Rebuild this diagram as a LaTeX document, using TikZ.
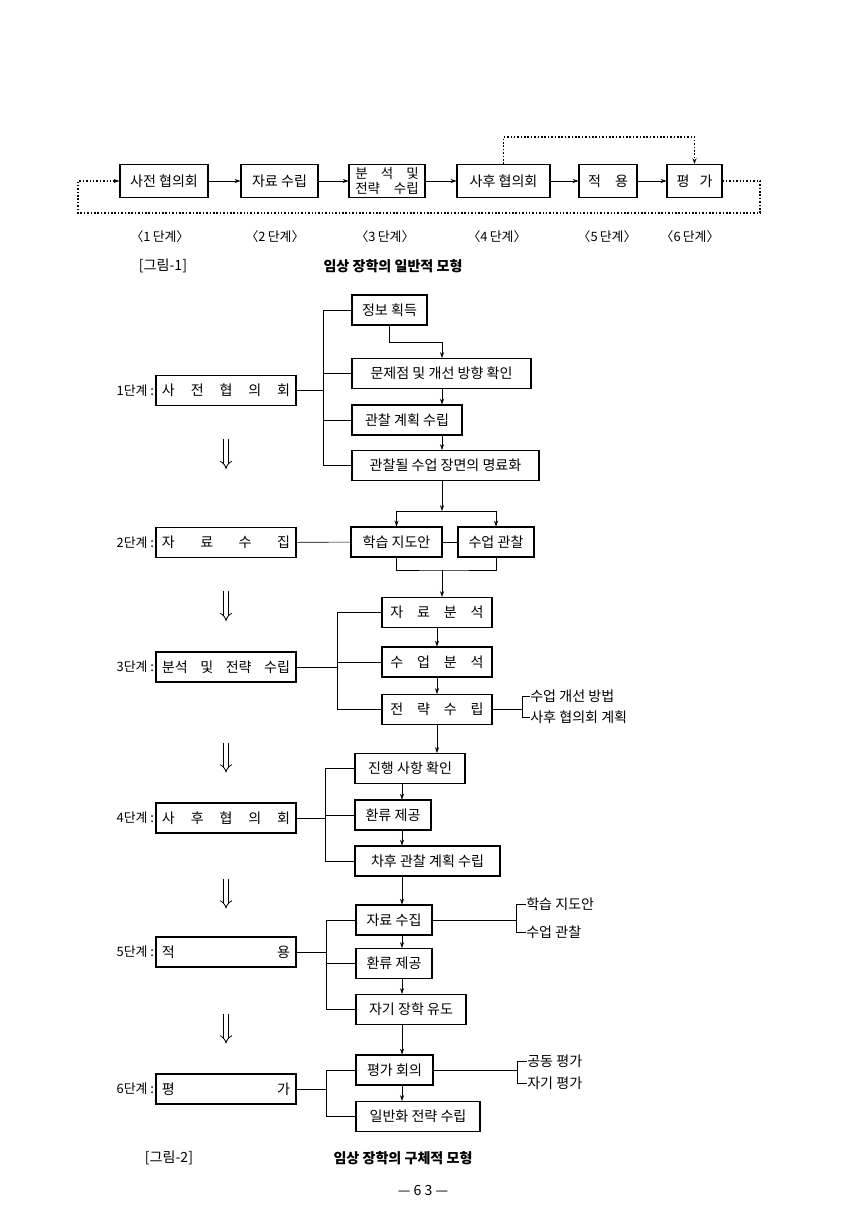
\documentclass[tikz,border=0pt]{standalone}
\usepackage{fontspec}
\newfontfamily\kr{Noto Sans CJK KR}
\usetikzlibrary{arrows.meta,calc}
\newcommand{\stretchtext}[2]{\makebox[#1][s]{#2}}
\tikzstyle{box}=[draw,line width=0.9pt,minimum height=0.9cm,inner sep=2pt,font=\kr\fontsize{12}{13}\selectfont]
\tikzstyle{topbox}=[box,minimum height=0.99cm]
\tikzstyle{stage}=[box,inner xsep=0.18cm]
\tikzstyle{sub}=[box]
\tikzstyle{item}=[anchor=west,inner sep=0pt,font=\kr\fontsize{12}{13}\selectfont]
\tikzstyle{captext}=[inner sep=0pt,font=\kr\fontsize{12}{13}\selectfont]
\tikzstyle{heading}=[inner sep=0pt,font=\kr\bfseries\fontsize{12}{13}\selectfont]
\tikzstyle{numlbl}=[anchor=east,inner sep=1pt,font=\kr\fontsize{11}{12}\selectfont]
\tikzstyle{arr}=[-{Stealth[length=5pt,width=3.5pt]},line width=0.5pt]
\tikzstyle{dotline}=[line width=1.3pt,dash pattern=on 1.3pt off 1.6pt]
\tikzstyle{dbl}=[line width=0.7pt,double,double distance=3pt,-{Implies}]

\begin{document}
\begin{tikzpicture}[x=0.03cm,y=-0.03cm,line width=0.5pt]
\useasboundingbox (0,0) rectangle (849,1228);
% general model
\node[topbox,minimum width=2.64cm] (Step1) at (164,181) {사전 협의회};
\node[topbox,minimum width=2.31cm] (Step2) at (279.5,181) {자료 수립};
\node[topbox,minimum width=2.28cm,align=center,font=\kr\fontsize{11.5}{12.5}\selectfont] (Step3) at (387,181) {\stretchtext{1.9cm}{분 석 및}\\\stretchtext{1.9cm}{전략 수립}};
\node[topbox,minimum width=2.79cm] (Step4) at (503.5,181) {사후 협의회};
\node[topbox,minimum width=1.74cm] (Step5) at (608,181) {\stretchtext{1.2cm}{적 용}};
\node[topbox,minimum width=1.65cm] (Step6) at (694.5,181) {\stretchtext{1.08cm}{평 가}};
\foreach \n/\x in {1/160,2/275,3/385,4/497,5/607,6/690}
  \node[captext,font=\kr\fontsize{11}{12}\selectfont] (Lbl\n) at (\x,237) {〈\n\,단계〉};
\node[captext] (Fig1) at (163,266) {[그림-1]};
\node[heading] (Title1) at (393,266) {임상 장학의 일반적 모형};
\coordinate (BackR) at (760,213);
\coordinate (BackL) at (78,213);
\coordinate (Over) at (0,137);
\draw[arr] (Step1) -- (Step2);
\draw[arr] (Step2) -- (Step3);
\draw[arr] (Step3) -- (Step4);
\draw[arr] (Step4) -- (Step5);
\draw[arr] (Step5) -- (Step6);
\draw[arr,dotline] (Step6.east) -| (BackR) -- (BackL) |- (Step1.west);
\draw[arr,dotline] (Step4.north) -- (Step4.north |- Over) -| (Step6.north);
% concrete model
\node[stage] (Stage1) at (226,390.5) {\stretchtext{3.84cm}{사 전 협 의 회}};
\node[stage] (Stage2) at (226,542.5) {\stretchtext{3.84cm}{자 료 수 집}};
\node[stage] (Stage3) at (226,667) {\stretchtext{3.84cm}{분석 및 전략 수립}};
\node[stage] (Stage4) at (226,818) {\stretchtext{3.84cm}{사 후 협 의 회}};
\node[stage] (Stage5) at (226,952) {\stretchtext{3.84cm}{적 용}};
\node[stage] (Stage6) at (226,1089) {\stretchtext{3.84cm}{평 가}};
\foreach \n in {1,...,6}
  \node[numlbl] (Num\n) at (Stage\n.west) {{\n}단계 :};
\foreach \n/\d in {1/33,2/33,3/60,4/45,5/46}
  \draw[dbl] ($(Stage\n.south)+(0,\d)$) -- ($(Stage\n.south)+(0,\d+30)$);
\node[sub,minimum width=2.25cm] (Info) at (389.5,310) {정보 획득};
\node[sub,minimum width=5.37cm] (Prob) at (441.5,373.5) {문제점 및 개선 방향 확인};
\node[sub,minimum width=3.3cm] (Plan) at (407,420) {관찰 계획 수립};
\node[sub,minimum width=5.61cm] (Scene) at (445.5,465.5) {관찰될 수업 장면의 명료화};
\node[sub,minimum width=2.73cm] (Guide) at (396.5,542) {학습 지도안};
\node[sub,minimum width=2.28cm] (Obs) at (496,542) {수업 관찰};
\node[sub,minimum width=3.3cm] (DataA) at (437,612.5) {\stretchtext{2.8cm}{자 료 분 석}};
\node[sub,minimum width=3.3cm] (Lesson) at (437,662) {\stretchtext{2.8cm}{수 업 분 석}};
\node[sub,minimum width=3.3cm] (Strat) at (437,709.5) {\stretchtext{2.8cm}{전 략 수 립}};
\node[sub,minimum width=3.3cm] (Prog) at (410,768.5) {진행 사항 확인};
\node[sub,minimum width=2.28cm] (Feed) at (393,815) {환류 제공};
\node[sub,minimum width=4.35cm] (Next) at (427.5,861) {차후 관찰 계획 수립};
\node[sub,minimum width=2.28cm] (Data) at (394,920) {자료 수집};
\node[sub,minimum width=2.28cm] (FeedB) at (394,963.5) {환류 제공};
\node[sub,minimum width=3.3cm] (Self) at (411,1009.5) {자기 장학 유도};
\node[sub,minimum width=2.31cm] (Meet) at (394.5,1070) {평가 회의};
\node[sub,minimum width=3.72cm] (Gen) at (418,1116.5) {일반화 전략 수립};
\node[item] (Impr) at (530,696) {수업 개선 방법};
\node[item] (PostPlan) at (530,717) {사후 협의회 계획};
\node[item] (GuideB) at (526,904) {학습 지도안};
\node[item] (ObsB) at (526,932) {수업 관찰};
\node[item] (Joint) at (527,1061) {공동 평가};
\node[item] (SelfEv) at (527,1083) {자기 평가};
\node[captext] (Fig2) at (169,1158) {[그림-2]};
\node[heading] (Title2) at (403,1158) {임상 장학의 구체적 모형};
\node[captext] (Page) at (423,1190) {— 6 3 —};
% stage 1
\coordinate (AxisA) at (442,0);
\draw (Stage1.east) -- +(27,0) |- (Info.west);
\draw (Stage1.east) -- +(27,0) |- (Prob.west);
\draw (Stage1.east) -- +(27,0) |- (Plan.west);
\draw (Stage1.east) -- +(27,0) |- (Scene.west);
\draw[arr] (Info.south) -- +(0,17) -| (Prob.north -| AxisA);
\draw[arr] (Prob.south -| AxisA) -- (Plan.north -| AxisA);
\draw[arr] (Plan.south -| AxisA) -- (Scene.north -| AxisA);
\coordinate (Split) at (442,511);
\draw[arr] (Scene.south -| AxisA) -- (Split);
\draw[arr] (Split) -| (Guide.north);
\draw[arr] (Split) -| (Obs.north);
% stage 2
\coordinate (Join) at (442,570);
\draw (Stage2) -- (Guide);
\draw (Guide) -- (Obs);
\draw (Guide.south) |- (Join) -| (Obs.south);
\draw[arr] (Join) -- (Join |- DataA.north);
% stage 3
\draw (Stage3.east) -- +(41,0) |- (DataA.west);
\draw (Stage3.east) -- +(41,0) |- (Lesson.west);
\draw (Stage3.east) -- +(41,0) |- (Strat.west);
\draw[arr] (DataA) -- (Lesson);
\draw[arr] (Lesson) -- (Strat);
\draw (Strat.east) -- +(30,0) |- (Impr.west);
\draw (Strat.east) -- +(30,0) |- (PostPlan.west);
\draw[arr] (Strat.south) -- (Strat.south |- Prog.north);
% stage 4
\coordinate (AxisB) at (402,0);
\draw (Stage4.east) -- +(29,0) |- (Prog.west);
\draw (Stage4.east) -- +(29,0) |- (Feed.west);
\draw (Stage4.east) -- +(29,0) |- (Next.west);
\draw[arr] (Prog.south -| AxisB) -- (Feed.north -| AxisB);
\draw[arr] (Feed.south -| AxisB) -- (Next.north -| AxisB);
\draw[arr] (Next.south -| AxisB) -- (Data.north -| AxisB);
% stage 5
\draw (Stage5.east) -- +(30,0) |- (Data.west);
\draw (Stage5.east) -- +(30,0) |- (FeedB.west);
\draw (Stage5.east) -- +(30,0) |- (Self.west);
\draw (Data.east) -- +(84,0) |- (GuideB.west);
\draw (Data.east) -- +(84,0) |- (ObsB.west);
\draw[arr] (Data.south -| AxisB) -- (FeedB.north -| AxisB);
\draw[arr] (FeedB.south -| AxisB) -- (Self.north -| AxisB);
\draw[arr] (Self.south -| AxisB) -- (Meet.north -| AxisB);
% stage 6
\draw (Stage6.east) -- +(30,0) |- (Meet.west);
\draw (Stage6.east) -- +(30,0) |- (Gen.west);
\draw (Meet.east) -- +(84,0) |- (Joint.west);
\draw (Meet.east) -- +(84,0) |- (SelfEv.west);
\draw[arr] (Meet.south -| AxisB) -- (Gen.north -| AxisB);
\end{tikzpicture}
\end{document}
